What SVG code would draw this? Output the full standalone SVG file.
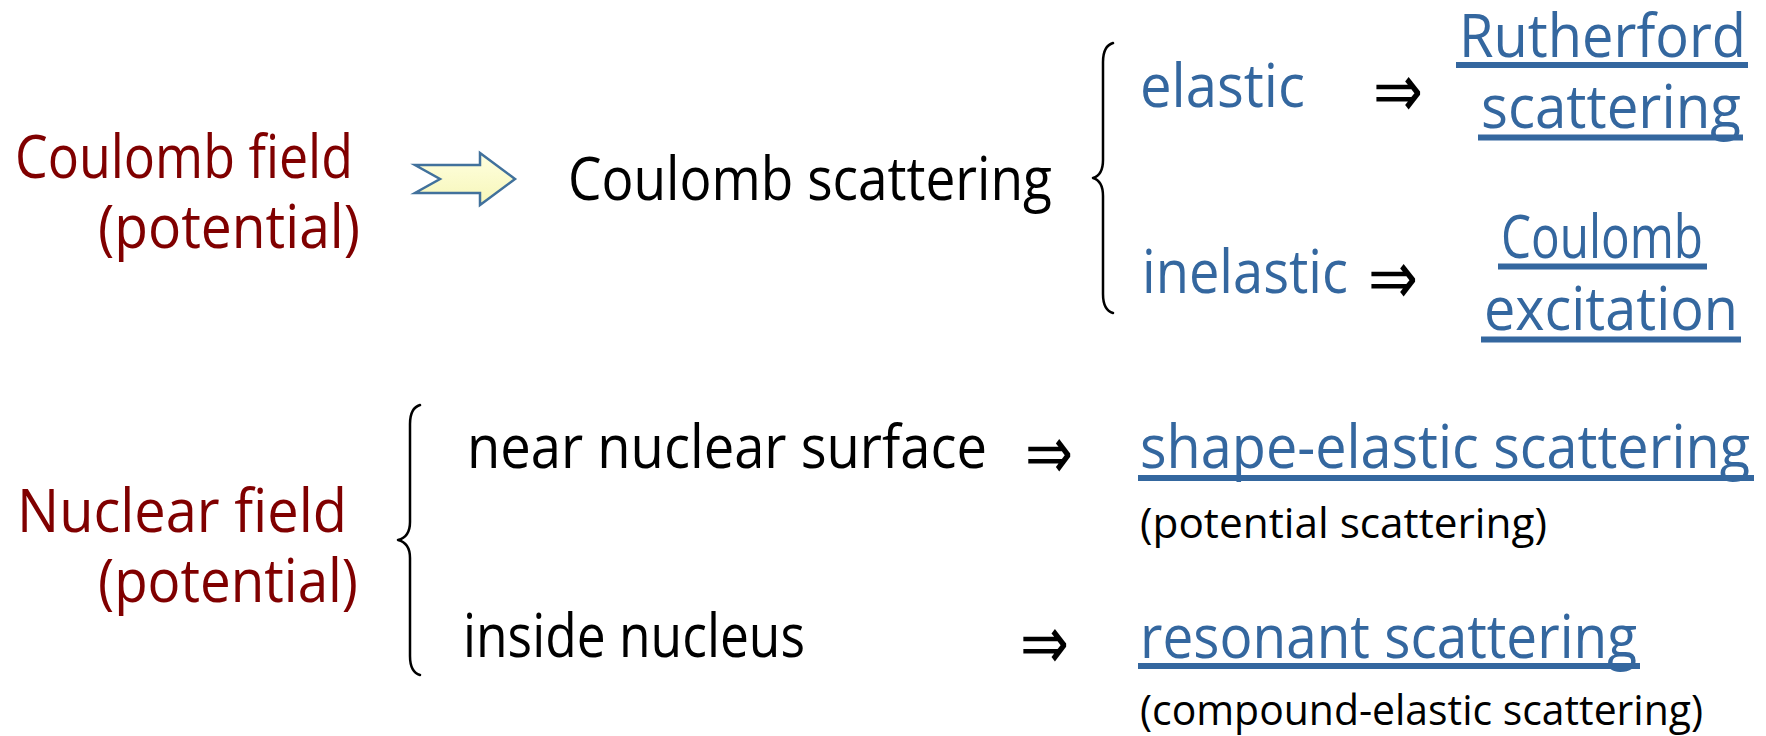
<svg xmlns="http://www.w3.org/2000/svg" width="1766" height="736" viewBox="0 0 1766 736">
<defs>
<linearGradient id="gy" x1="0" y1="0" x2="0" y2="1">
<stop offset="0" stop-color="#ffffe0"/>
<stop offset="1" stop-color="#f6f6b8"/>
</linearGradient>
</defs>
<style>
text{font-family:"Comic Sans MS","Open Sans","Liberation Sans",sans-serif;}
.big{font-size:60px;}
.small{font-size:42px;}
.red{fill:#800000;}
.blk{fill:#000;}
.blue{fill:#34679f;}
.ul{stroke:#34679f;stroke-width:6;fill:none;}
.brace{stroke:#000;stroke-width:2.5;fill:none;stroke-linecap:round;stroke-linejoin:round;}
.impl{font-family:"DejaVu Sans",sans-serif;font-size:76px;fill:#000;}
</style>
<rect width="1766" height="736" fill="#fff"/>

<g id="coulomb-field">
<text class="big red" x="15" y="178" textLength="338" lengthAdjust="spacingAndGlyphs">Coulomb field</text>
<text class="big red" x="98" y="248" textLength="262" lengthAdjust="spacingAndGlyphs">(potential)</text>
</g>

<g id="coulomb-scattering">
<text class="big blk" x="568" y="200" textLength="484" lengthAdjust="spacingAndGlyphs">Coulomb scattering</text>
</g>

<g id="elastic">
<text class="big blue" x="1140" y="107" textLength="165" lengthAdjust="spacingAndGlyphs">elastic</text>
</g>
<g id="inelastic">
<text class="big blue" x="1142" y="293" textLength="206" lengthAdjust="spacingAndGlyphs">inelastic</text>
</g>

<g id="rutherford">
<text class="big blue" x="1459" y="57" textLength="287" lengthAdjust="spacingAndGlyphs">Rutherford</text>
<line class="ul" x1="1456" y1="65" x2="1748" y2="65"/>
<text class="big blue" x="1481" y="128" textLength="260" lengthAdjust="spacingAndGlyphs">scattering</text>
<line class="ul" x1="1478" y1="137.5" x2="1743" y2="137.5"/>
</g>

<g id="coulomb-excitation">
<text class="big blue" x="1501" y="258" textLength="202" lengthAdjust="spacingAndGlyphs">Coulomb</text>
<line class="ul" x1="1498" y1="266.5" x2="1707" y2="266.5"/>
<text class="big blue" x="1484" y="330" textLength="254" lengthAdjust="spacingAndGlyphs">excitation</text>
<line class="ul" x1="1481" y1="339.5" x2="1741" y2="339.5"/>
</g>

<g id="nuclear-field">
<text class="big red" x="17" y="532" textLength="330" lengthAdjust="spacingAndGlyphs">Nuclear field</text>
<text class="big red" x="98" y="602" textLength="260" lengthAdjust="spacingAndGlyphs">(potential)</text>
</g>

<g id="near-surface">
<text class="big blk" x="467" y="468" textLength="520" lengthAdjust="spacingAndGlyphs">near nuclear surface</text>
</g>
<g id="inside-nucleus">
<text class="big blk" x="463" y="657" textLength="342" lengthAdjust="spacingAndGlyphs">inside nucleus</text>
</g>

<g id="shape-elastic">
<text class="big blue" x="1140" y="468" textLength="610" lengthAdjust="spacingAndGlyphs">shape-elastic scattering</text>
<line class="ul" x1="1138" y1="478" x2="1754" y2="478"/>
<text class="small blk" x="1140" y="538" textLength="407" lengthAdjust="spacingAndGlyphs">(potential scattering)</text>
</g>

<g id="resonant">
<text class="big blue" x="1140" y="658" textLength="497" lengthAdjust="spacingAndGlyphs">resonant scattering</text>
<line class="ul" x1="1138" y1="666" x2="1640" y2="666"/>
<text class="small blk" x="1140" y="725" textLength="563" lengthAdjust="spacingAndGlyphs">(compound-elastic scattering)</text>
</g>

<g id="connectors">
<polygon points="415,165 480,165 480,153 515,179 480,205 480,193 415,193 440,179" fill="url(#gy)" stroke="#41719c" stroke-width="2.5" stroke-linejoin="miter"/>
<path class="brace" d="M1113,43 Q1103,46 1103,62 L1103,160 Q1103,175 1093,178 Q1103,181 1103,196 L1103,294 Q1103,310 1113,313"/>
<path class="brace" d="M420,405 Q410,408 410,424 L410,522 Q410,537 398,540 Q410,543 410,558 L410,656 Q410,672 420,675"/>
<text class="impl" x="1373" y="117" textLength="50" lengthAdjust="spacingAndGlyphs">⇒</text>
<text class="impl" x="1368" y="304" textLength="50" lengthAdjust="spacingAndGlyphs">⇒</text>
<text class="impl" x="1025" y="479" textLength="48" lengthAdjust="spacingAndGlyphs">⇒</text>
<text class="impl" x="1020" y="669" textLength="49" lengthAdjust="spacingAndGlyphs">⇒</text>
</g>
</svg>
